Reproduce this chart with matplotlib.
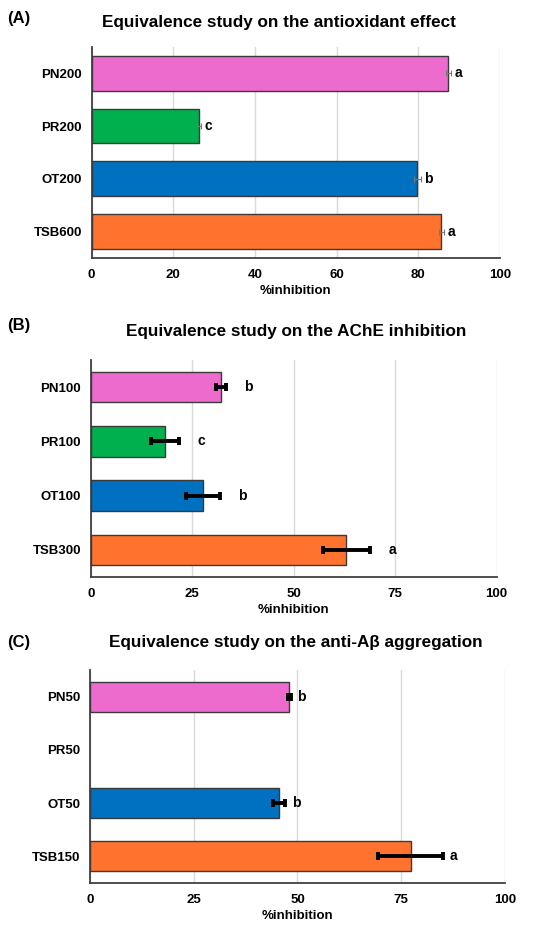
#!/usr/bin/env python

import numpy as np
import matplotlib
matplotlib.use("Agg")
import matplotlib.pyplot as plt

plt.rcParams['font.family'] = ['Liberation Sans', 'DejaVu Sans']
plt.rcParams['font.weight'] = 'bold'

colors = ['#EE6BCE', '#00B04F', '#0070C0', '#FF732E']

# (A) antioxidant
labels_a = ['PN200', 'PR200', 'OT200', 'TSB600']
vals_a = [87.4, 26.3, 79.8, 85.7]
err_a = [0.7, 0.6, 0.8, 0.7]
sig_a = ['a', 'c', 'b', 'a']

# (B) AChE inhibition
labels_b = ['PN100', 'PR100', 'OT100', 'TSB300']
vals_b = [32.1, 18.3, 27.7, 63.0]
err_b = [1.2, 3.4, 4.2, 5.9]
sig_b = ['b', 'c', 'b', 'a']

# (C) anti-Abeta aggregation (PR50 not shown)
labels_c = ['PN50', 'PR50', 'OT50', 'TSB150']
vals_c = [48.0, np.nan, 45.6, 77.3]
err_c = [0.4, np.nan, 1.5, 7.8]
sig_c = ['b', '', 'b', 'a']


def panel(fig, rect, labels, vals, err, sig, ticks, bar_h, pad, thick):
    ax = fig.add_axes(rect)
    y = np.arange(len(labels))
    v = np.nan_to_num(np.array(vals, dtype=float))
    e = np.nan_to_num(np.array(err, dtype=float))
    show = ~np.isnan(np.array(vals, dtype=float))
    ax.barh(y[show], v[show], height=bar_h, color=np.array(colors)[show],
            edgecolor='#3a3a3a', linewidth=1.0, zorder=3)
    if thick:
        ax.errorbar(v[show], y[show], xerr=e[show], fmt='none', ecolor='black',
                    elinewidth=2.8, capsize=3, capthick=2.8, zorder=4)
    else:
        ax.errorbar(v[show], y[show], xerr=e[show], fmt='none', ecolor='#777777',
                    elinewidth=0.8, capsize=2, capthick=0.8, zorder=4)
    for yi, vi, ei, s in zip(y, v, e, sig):
        if s:
            ax.text(vi + ei + pad, yi, s, ha='center', va='center',
                    fontsize=10, fontweight='bold')
    ax.set_ylim(3.5, -0.5)
    ax.set_xlim(0, 100)
    ax.set_xticks(ticks)
    ax.set_yticks(y)
    ax.set_yticklabels(labels)
    ax.tick_params(length=0, labelsize=9.5, pad=7)
    ax.tick_params(axis='x', pad=8)
    ax.grid(axis='x', color='#d9d9d9', linewidth=1.0, zorder=0)
    ax.set_axisbelow(True)
    for s in ['top', 'right']:
        ax.spines[s].set_visible(False)
    for s in ['left', 'bottom']:
        ax.spines[s].set_color('#404040')
        ax.spines[s].set_linewidth(1.3)
    ax.set_xlabel('%inhibition', fontsize=9.5, fontweight='bold', labelpad=3)
    return ax


def main():
    fig = plt.figure(figsize=(5.5, 9.34), dpi=100)

    panel(fig, [0.1667, 0.7238, 0.742, 0.226], labels_a, vals_a, err_a, sig_a,
          [0, 20, 40, 60, 80, 100], 0.66, 1.8, False)
    panel(fig, [0.165, 0.3822, 0.738, 0.2323], labels_b, vals_b, err_b, sig_b,
          [0, 25, 50, 75, 100], 0.56, 5.5, True)
    panel(fig, [0.1636, 0.0546, 0.7545, 0.228], labels_c, vals_c, err_c, sig_c,
          [0, 25, 50, 75, 100], 0.56, 2.5, True)

    fig.text(0.507, 0.9754, 'Equivalence study on the antioxidant effect',
             ha='center', va='center', fontsize=12.3, fontweight='bold')
    fig.text(0.538, 0.6456, 'Equivalence study on the AChE inhibition',
             ha='center', va='center', fontsize=12.3, fontweight='bold')
    fig.text(0.538, 0.3116, 'Equivalence study on the anti-A\u03b2 aggregation',
             ha='center', va='center', fontsize=12.3, fontweight='bold')
    fig.text(0.013, 0.9807, '(A)', ha='left', va='center', fontsize=12, fontweight='bold')
    fig.text(0.013, 0.651, '(B)', ha='left', va='center', fontsize=12, fontweight='bold')
    fig.text(0.013, 0.3116, '(C)', ha='left', va='center', fontsize=12, fontweight='bold')

    fig.savefig('out.png', dpi=100, facecolor='white')


if __name__ == "__main__":
    main()
